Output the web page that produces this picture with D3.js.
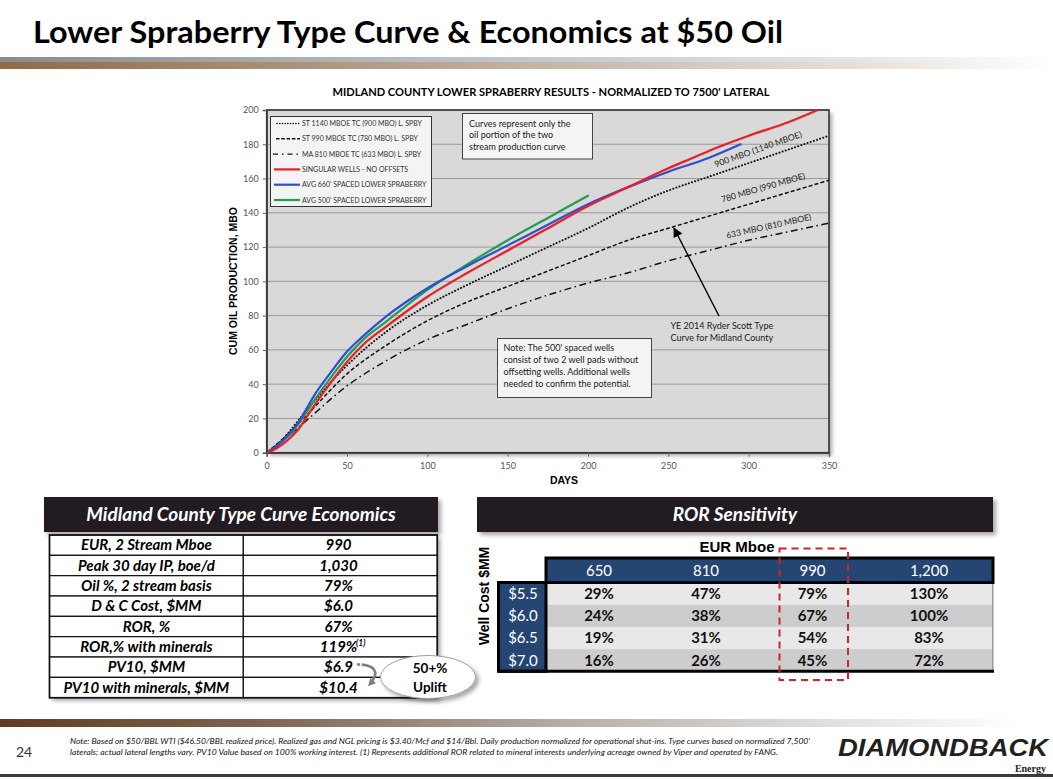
<!DOCTYPE html>
<html><head><meta charset="utf-8">
<script src="https://cdn.jsdelivr.net/npm/d3@7"></script>
<style>body{margin:0;background:#fff;}svg{display:block;}</style>
</head><body>
<svg id="c" width="1053" height="779"></svg>
<script>
// ---------------- DATA ----------------
const yTicks = [0,20,40,60,80,100,120,140,160,180,200];
const xTicks = [0,50,100,150,200,250,300,350];
const legendLabels = [
  "ST 1140 MBOE TC (900 MBO) L. SPBY",
  "ST 990 MBOE TC (780 MBO) L. SPBY",
  "MA 810 MBOE TC (633 MBO) L. SPBY",
  "SINGULAR WELLS - NO OFFSETS",
  "AVG 660' SPACED LOWER SPRABERRY",
  "AVG 500' SPACED LOWER SPRABERRY"
];
// [days, cum oil MBO]
const tc900 = [[0,0],[10,8],[25,25],[50,51],[75,71],[100,86],[125,98],[150,109],[175,120],[200,131],[225,143],[250,153],[275,161],[300,169],[325,177],[350,185]];
const tc780 = [[0,0],[10,8],[25,22],[50,46],[75,63],[100,77],[125,88],[150,97],[175,106],[200,115],[225,124],[250,131],[275,138],[300,145],[325,152],[350,159]];
const tc633 = [[0,0],[10,7],[25,19],[50,39],[75,54],[100,66],[125,75],[150,84],[175,92],[200,99],[225,105],[250,112],[275,118],[300,124],[325,129],[350,134]];
const singularWells = [[0,0],[3,1],[10,5],[15,9],[20,14],[25,21],[30,28],[40,41],[50,53],[60,63],[75,74],[100,91],[125,105],[150,118],[175,131],[200,144],[225,155],[250,166],[265,172],[280,178],[300,185],[325,193],[343,200]];
const avg660 = [[0,0],[5,3],[10,7],[15,12],[20,18],[25,26],[30,34],[40,47],[50,59],[60,68],[75,80],[100,96],[125,109],[150,121],[175,133],[200,145],[225,155],[250,164],[275,172],[295,180]];
const avg500 = [[0,0],[5,3],[10,7],[15,11],[20,17],[25,24],[30,31],[40,44],[50,56],[60,66],[75,77],[100,95],[125,110],[150,124],[175,137],[200,150]];
const tcLabels = ["900 MBO (1140 MBOE)","780 MBO (990 MBOE)","633 MBO (810 MBOE)"];

const econLabels = ["EUR, 2 Stream Mboe","Peak 30 day IP, boe/d","Oil %, 2 stream basis","D & C Cost, $MM","ROR, %","ROR,% with minerals","PV10, $MM","PV10 with minerals, $MM"];
const econValues = ["990","1,030","79%","$6.0","67%","119%","$6.9","$10.4"];

const eurCols = ["650","810","990","1,200"];
const wellCosts = ["$5.5","$6.0","$6.5","$7.0"];
const rorValues = [[29,47,79,130],[24,38,67,100],[19,31,54,83],[16,26,45,72]];

const footLines = [
 "Note: Based on $50/BBL WTI ($46.50/BBL realized price). Realized gas and NGL pricing is $3.40/Mcf and $14/Bbl.  Daily production normalized for operational shut-ins. Type curves based on normalized 7,500'",
 "laterals; actual lateral lengths vary. PV10 Value based on 100% working interest. (1) Represents additional ROR related to mineral interests underlying acreage owned by Viper and operated by FANG."
];

// ---------------- DRAW ----------------
const svg = d3.select("#c");
const defs = svg.append("defs");
function grad(id, stops){
  const g = defs.append("linearGradient").attr("id",id).attr("x1","0").attr("x2","1").attr("y1","0").attr("y2","0");
  stops.forEach(s=>g.append("stop").attr("offset",s[0]).attr("stop-color",s[1]));
}
grad("gTop",[["0%","#8a8a8a"],["40%","#b9bcc2"],["80%","#e4e4e6"],["100%","#ffffff"]]);
grad("gTopB",[["0%","#8d6a4e"],["40%","#b9a38f"],["80%","#e6ddd5"],["100%","#ffffff"]]);
grad("gFoot",[["0%","#5e3c22"],["25%","#7f6450"],["55%","#b8b0aa"],["80%","#e2e2e2"],["97%","#ffffff"]]);
const sh = defs.append("filter").attr("id","shadow").attr("x","-10%").attr("y","-10%").attr("width","130%").attr("height","140%");
sh.append("feDropShadow").attr("dx",3).attr("dy",3).attr("stdDeviation",2).attr("flood-color","#000").attr("flood-opacity",0.35);
defs.append("marker").attr("id","arrowK").attr("viewBox","0 0 10 10").attr("refX",9).attr("refY",5)
  .attr("markerWidth",7).attr("markerHeight",7).attr("orient","auto")
  .append("path").attr("d","M0,0 L10,5 L0,10 z").attr("fill","#000");
defs.append("marker").attr("id","arrowG").attr("viewBox","0 0 10 10").attr("refX",8).attr("refY",5)
  .attr("markerWidth",3).attr("markerHeight",3).attr("orient","auto")
  .append("path").attr("d","M0,0 L10,5 L0,10 z").attr("fill","#7f7f7f");

// Title
svg.append("text").attr("x",33).attr("y",43).text("Lower Spraberry Type Curve & Economics at $50 Oil")
  .attr("font-family","Lato").attr("font-weight",700).attr("font-size",30).attr("fill","#000")
  .attr("textLength",750).attr("lengthAdjust","spacingAndGlyphs");
svg.append("rect").attr("x",0).attr("y",57).attr("width",1053).attr("height",5).attr("fill","url(#gTop)");
svg.append("rect").attr("x",0).attr("y",62).attr("width",1053).attr("height",7).attr("fill","url(#gTopB)");

// Chart
const x = d3.scaleLinear().domain([0,350]).range([266.7,829]);
const y = d3.scaleLinear().domain([0,200]).range([452.7,110]);
defs.append("clipPath").attr("id","plotClip").append("rect")
  .attr("x",x(0)).attr("y",y(200)).attr("width",x(350)-x(0)).attr("height",y(0)-y(200));

svg.append("text").attr("x",551).attr("y",96).attr("text-anchor","middle")
  .text("MIDLAND COUNTY LOWER SPRABERRY RESULTS - NORMALIZED TO 7500' LATERAL")
  .attr("font-family","Lato").attr("font-weight",700).attr("font-size",10.5).attr("fill","#000")
  .attr("textLength",437).attr("lengthAdjust","spacingAndGlyphs");

svg.append("rect").attr("x",x(0)).attr("y",y(200)).attr("width",x(350)-x(0)).attr("height",y(0)-y(200))
  .attr("fill","#d9d9d9").attr("filter","url(#shadow)");
svg.append("g").selectAll("line").data(yTicks.filter(d=>d>0)).join("line")
  .attr("x1",x(0)).attr("x2",x(350)).attr("y1",d=>y(d)).attr("y2",d=>y(d))
  .attr("stroke","#9a9a9a").attr("stroke-width",1);
svg.append("rect").attr("x",x(0)).attr("y",y(200)).attr("width",x(350)-x(0)).attr("height",y(0)-y(200))
  .attr("fill","none").attr("stroke","#333").attr("stroke-width",1.6);

const yAxis = svg.append("g").attr("transform",`translate(${x(0)},0)`)
  .call(d3.axisLeft(y).tickValues(yTicks).tickSize(4).tickPadding(4));
const xAxis = svg.append("g").attr("transform",`translate(0,${y(0)})`)
  .call(d3.axisBottom(x).tickValues(xTicks).tickSize(4).tickPadding(6));
[yAxis,xAxis].forEach(a=>{
  a.select(".domain").attr("stroke","#444").attr("stroke-width",1.5);
  a.selectAll(".tick line").attr("stroke","#666");
  a.selectAll(".tick text").attr("font-family","Lato").attr("font-size",9).attr("fill","#555");
});
svg.append("text").attr("x",564).attr("y",484).attr("text-anchor","middle").text("DAYS")
  .attr("font-family","Liberation Sans").attr("font-weight",700).attr("font-size",10.5);
svg.append("text").attr("transform","translate(237,281) rotate(-90)").attr("text-anchor","middle")
  .text("CUM OIL PRODUCTION, MBO").attr("font-family","Liberation Sans").attr("font-weight",700).attr("font-size",10.5);

const line = d3.line().x(d=>x(d[0])).y(d=>y(d[1])).curve(d3.curveMonotoneX);
const series = [
  {d:tc633, c:"#111", w:1.5, dash:"7,3.5,1.6,3.5", cap:"butt"},
  {d:tc780, c:"#111", w:1.5, dash:"4,2.2", cap:"butt"},
  {d:tc900, c:"#111", w:2, dash:"0.1,3.2", cap:"round"},
  {d:avg500, c:"#1f9e55", w:2.2},
  {d:avg660, c:"#2f4fcc", w:2.2},
  {d:singularWells, c:"#ee1c24", w:2.2}
];
const gL = svg.append("g").attr("clip-path","url(#plotClip)");
series.forEach(s=>{
  gL.append("path").attr("d",line(s.d)).attr("fill","none").attr("stroke",s.c).attr("stroke-width",s.w)
    .attr("stroke-dasharray",s.dash||null).attr("stroke-linecap",s.cap||"round").attr("stroke-linejoin","round");
});

// Type-curve labels (rotated)
const tcLabelPos = [[279.5,166.5,-19.5],[283.5,146,-16],[286.5,125,-12.5]];
tcLabels.forEach((t,i)=>{
  const p = tcLabelPos[i];
  svg.append("text").attr("transform",`translate(${x(p[0])},${y(p[1])}) rotate(${p[2]})`).text(t)
    .attr("font-family","Lato").attr("font-size",8.6).attr("fill","#222");
});

// Legend
svg.append("rect").attr("x",270.5).attr("y",116.5).attr("width",161).attr("height",90)
  .attr("fill","#f4f4f4").attr("stroke","#333").attr("stroke-width",1);
const legStyles = [
  {c:"#111",w:1.6,dash:"0.1,2.6",cap:"round",x1:277},
  {c:"#111",w:1.4,dash:"3.5,1.8",cap:"butt",x1:276},
  {c:"#111",w:1.4,dash:"5,4,1.5,4",cap:"butt",x1:273},
  {c:"#ee1c24",w:2.2},{c:"#2f4fcc",w:2.2},{c:"#1f9e55",w:2.2}
];
const legY = d3.scalePoint().domain(legendLabels).range([123.5,200]);
legendLabels.forEach((t,i)=>{
  const st = legStyles[i];
  svg.append("line").attr("x1",st.x1||274).attr("x2",300).attr("y1",legY(t)).attr("y2",legY(t))
    .attr("stroke",st.c).attr("stroke-width",st.w).attr("stroke-dasharray",st.dash||null).attr("stroke-linecap",st.cap||"butt");
  svg.append("text").attr("x",302).attr("y",legY(t)+2.5).text(t)
    .attr("font-family","Lato").attr("font-size",7).attr("fill","#333");
});

// Text boxes
function noteBox(x0,y0,w,h,lines,lx,ly0,step){
  svg.append("rect").attr("x",x0).attr("y",y0).attr("width",w).attr("height",h)
    .attr("fill","#f4f4f4").attr("stroke","#444").attr("stroke-width",1);
  lines.forEach((t,i)=>svg.append("text").attr("x",lx).attr("y",ly0+i*step).text(t)
    .attr("font-family","Lato").attr("font-size",9).attr("fill","#222"));
}
noteBox(462.5,113.5,130,45.5,["Curves represent only the","oil portion of the two","stream production curve"],469,126.5,11.7);
noteBox(497.5,338.5,154,59,["Note: The 500'  spaced wells","consist of two 2 well pads without","offsetting wells.  Additional wells","needed to confirm the potential."],503.5,351,12);
["YE 2014 Ryder Scott Type","Curve for Midland County"].forEach((t,i)=>svg.append("text")
  .attr("x",670.5).attr("y",328.5+i*12.3).text(t).attr("font-family","Lato").attr("font-size",9).attr("fill","#222"));
svg.append("line").attr("x1",719).attr("y1",316).attr("x2",674).attr("y2",228)
  .attr("stroke","#000").attr("stroke-width",1.4).attr("marker-end","url(#arrowK)");

// ---------------- Left table ----------------
svg.append("rect").attr("x",44).attr("y",497).attr("width",394).attr("height",35).attr("fill","#231f20").attr("filter","url(#shadow)");
svg.append("text").attr("x",241).attr("y",521).attr("text-anchor","middle").text("Midland County Type Curve Economics")
  .attr("font-family","Lato").attr("font-weight",700).attr("font-style","italic").attr("font-size",19).attr("fill","#fff");
const tL = 49.5, tDiv = 243.3, tR = 437.3;
const rowY = d3.scaleBand().domain(econLabels).range([535,697.7]);
svg.append("rect").attr("x",tL).attr("y",535).attr("width",tR-tL).attr("height",697.7-535).attr("fill","#fff").attr("filter","url(#shadow)");
econLabels.forEach((t,i)=>{
  const y0 = rowY(t), h = rowY.bandwidth();
  svg.append("rect").attr("x",tL).attr("y",y0).attr("width",tDiv-tL).attr("height",h).attr("fill","#fff").attr("stroke","#111").attr("stroke-width",1.2);
  svg.append("rect").attr("x",tDiv).attr("y",y0).attr("width",tR-tDiv).attr("height",h).attr("fill","#fff").attr("stroke","#111").attr("stroke-width",1.2);
  svg.append("text").attr("x",(tL+tDiv)/2).attr("y",y0+h/2+5.2).attr("text-anchor","middle").text(t)
    .attr("font-family","Lato").attr("font-weight",700).attr("font-style","italic").attr("font-size",15);
  svg.append("text").attr("x",338.5).attr("y",y0+h/2+5.2).attr("text-anchor","middle").text(econValues[i])
    .attr("font-family","Lato").attr("font-weight",700).attr("font-style","italic").attr("font-size",15);
});
svg.append("rect").attr("x",tL).attr("y",535).attr("width",tR-tL).attr("height",697.7-535).attr("fill","none").attr("stroke","#111").attr("stroke-width",1.6);
svg.append("text").attr("x",356).attr("y",rowY(econLabels[5])+9).text("(1)")
  .attr("font-family","Lato").attr("font-weight",700).attr("font-style","italic").attr("font-size",8.5);
// callout
svg.append("path").attr("d","M357,664.5 C371,664 383,670 369,685").attr("fill","none").attr("stroke","#7f7f7f")
  .attr("stroke-width",2.6).attr("stroke-dasharray","3,1.5,30").attr("marker-end","url(#arrowG)");
svg.append("ellipse").attr("cx",428).attr("cy",677).attr("rx",47.5).attr("ry",21.5)
  .attr("fill","#fff").attr("stroke","#a0a0a0").attr("stroke-width",1).attr("filter","url(#shadow)");
svg.append("text").attr("x",430).attr("y",672.5).attr("text-anchor","middle").text("50+%")
  .attr("font-family","Lato").attr("font-weight",700).attr("font-size",13.5);
svg.append("text").attr("x",430).attr("y",691.5).attr("text-anchor","middle").text("Uplift")
  .attr("font-family","Lato").attr("font-weight",700).attr("font-size",13.5);

// ---------------- Right table ----------------
svg.append("rect").attr("x",477).attr("y",497).attr("width",516).attr("height",35).attr("fill","#231f20").attr("filter","url(#shadow)");
svg.append("text").attr("x",735).attr("y",521).attr("text-anchor","middle").text("ROR Sensitivity")
  .attr("font-family","Lato").attr("font-weight",700).attr("font-style","italic").attr("font-size",19).attr("fill","#fff");
svg.append("text").attr("x",737).attr("y",552).attr("text-anchor","middle").text("EUR Mboe")
  .attr("font-family","Liberation Sans").attr("font-weight",700).attr("font-size",15);
svg.append("text").attr("transform","translate(489,596) rotate(-90)").attr("text-anchor","middle").text("Well Cost $MM")
  .attr("font-family","Liberation Sans").attr("font-weight",700).attr("font-size",14);
const colEdges = [546,652,760,865,993];
const rowTop = 582.5, rowH = 22.2, labL = 498.5;
const navy = "#254672";
rorValues.forEach((r,i)=>{
  svg.append("rect").attr("x",546).attr("y",rowTop+i*rowH).attr("width",993-546).attr("height",rowH)
    .attr("fill", i%2===0 ? "#e8e8e8" : "#cdcdcd");
});
svg.append("rect").attr("x",992).attr("y",rowTop).attr("width",1.5).attr("height",4*rowH).attr("fill","#9a9a9a");
svg.append("rect").attr("x",546).attr("y",558).attr("width",447).attr("height",rowTop-558)
  .attr("fill",navy).attr("stroke","#000").attr("stroke-width",3);
svg.append("rect").attr("x",labL).attr("y",rowTop).attr("width",546-labL).attr("height",4*rowH)
  .attr("fill",navy).attr("stroke","#000").attr("stroke-width",3);
svg.append("line").attr("x1",labL).attr("x2",994).attr("y1",rowTop+4*rowH).attr("y2",rowTop+4*rowH)
  .attr("stroke","#000").attr("stroke-width",3);
eurCols.forEach((c,j)=>{
  const cx = (colEdges[j]+colEdges[j+1])/2;
  svg.append("text").attr("x",cx).attr("y",575.5).attr("text-anchor","middle").text(c)
    .attr("font-family","Lato").attr("font-size",15).attr("fill","#fff");
  rorValues.forEach((r,i)=>{
    svg.append("text").attr("x",cx).attr("y",rowTop+i*rowH+rowH/2+5.3).attr("text-anchor","middle").text(r[j]+"%")
      .attr("font-family","Lato").attr("font-weight",700).attr("font-size",15).attr("fill","#111");
  });
});
wellCosts.forEach((w,i)=>{
  svg.append("text").attr("x",523).attr("y",rowTop+i*rowH+rowH/2+5.3).attr("text-anchor","middle").text(w)
    .attr("font-family","Lato").attr("font-size",15).attr("fill","#fff");
});
svg.append("rect").attr("x",779.5).attr("y",548.5).attr("width",68.5).attr("height",131.5)
  .attr("fill","none").attr("stroke","#d0232a").attr("stroke-width",2).attr("stroke-dasharray","7,5");

// ---------------- Footer ----------------
svg.append("rect").attr("x",0).attr("y",719).attr("width",1053).attr("height",8).attr("fill","url(#gFoot)");
svg.append("text").attr("x",16).attr("y",757).text("24").attr("font-family","Lato").attr("font-size",14).attr("fill","#333");
footLines.forEach((t,i)=>svg.append("text").attr("x",70).attr("y",743.5+i*11).text(t)
  .attr("font-family","Lato").attr("font-style","italic").attr("font-size",7.4).attr("fill","#111")
  .attr("textLength", i===0?740:708).attr("lengthAdjust","spacingAndGlyphs"));
svg.append("text").attr("x",838).attr("y",756).text("DIAMONDBACK")
  .attr("font-family","Liberation Sans").attr("font-weight",900).attr("font-style","italic").attr("font-size",23)
  .attr("fill","#231f20").attr("textLength",210).attr("lengthAdjust","spacingAndGlyphs");
svg.append("text").attr("x",1046).attr("y",771.5).attr("text-anchor","end").text("Energy")
  .attr("font-family","Liberation Serif").attr("font-weight",700).attr("font-size",10).attr("fill","#231f20");
svg.append("rect").attr("x",0).attr("y",774).attr("width",1053).attr("height",3).attr("fill","#3a3a3a");
</script>
</body></html>
